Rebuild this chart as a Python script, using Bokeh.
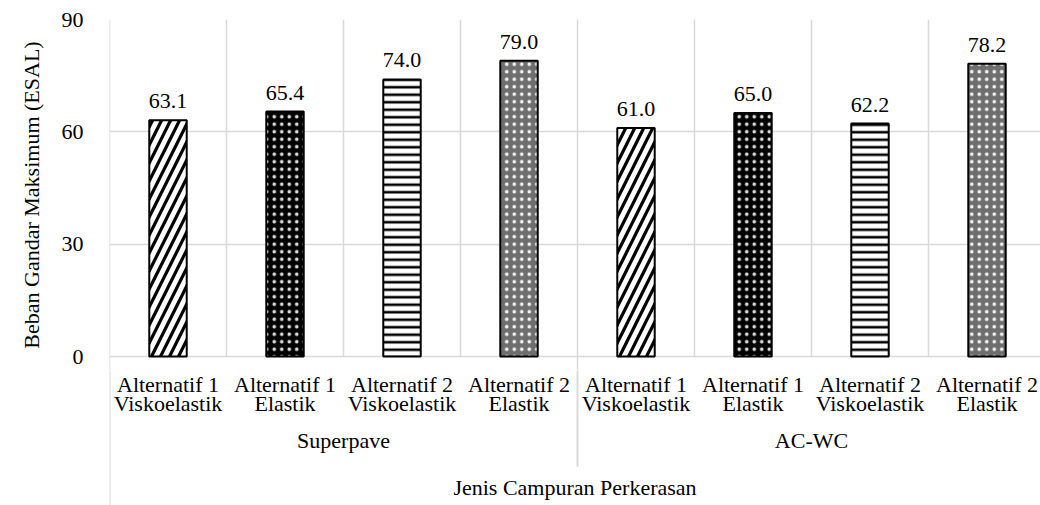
from bokeh.plotting import figure
from bokeh.models import Range1d, FixedTicker, ColumnDataSource
from bokeh.layouts import column
from bokeh.embed import file_html
from bokeh.resources import INLINE
from bokeh.core.properties import value

# ---- data ----
groups = ["Superpave", "AC-WC"]
cat_line1 = ["Alternatif 1", "Alternatif 1", "Alternatif 2", "Alternatif 2",
             "Alternatif 1", "Alternatif 1", "Alternatif 2", "Alternatif 2"]
cat_line2 = ["Viskoelastik", "Elastik", "Viskoelastik", "Elastik",
             "Viskoelastik", "Elastik", "Viskoelastik", "Elastik"]
values = [63.1, 65.4, 74.0, 79.0, 61.0, 65.0, 62.2, 78.2]
y_ticks = [0, 30, 60, 90]
y_title = "Beban Gandar Maksimum (ESAL)"
x_title = "Jenis Campuran Perkerasan"

FONT = "Times New Roman"
FS = "22px"
GRID = "#d9d9d9"

n = len(values)
xs = [i + 0.5 for i in range(n)]
labels = ["%.1f" % v for v in values]
xr = Range1d(0, 931 / 117)
unit = 337 / 90.0
y_low = -14 / unit

p = figure(width=1040, height=370, x_range=xr, y_range=Range1d(y_low, 90),
           output_backend="svg", toolbar_location=None,
           min_border_left=109, min_border_right=0, min_border_top=19, min_border_bottom=0)
p.outline_line_color = None
p.xaxis.visible = False
p.xgrid.visible = False
p.ygrid.ticker = FixedTicker(ticks=y_ticks)
p.ygrid.grid_line_color = GRID
p.ygrid.grid_line_width = 1.5

# vertical category boundaries; group boundaries run on below the axis
bounds = list(range(n + 1))
p.segment(x0=bounds, x1=bounds, y0=[y_low if b in (0, 4) else 0 for b in bounds],
          y1=[90] * len(bounds), line_color=GRID, line_width=1.5)

ya = p.yaxis[0]
ya.ticker = FixedTicker(ticks=y_ticks)
ya.axis_line_color = None
ya.major_tick_line_color = None
ya.minor_tick_line_color = None
ya.major_label_standoff = 20
ya.major_label_text_font = FONT
ya.major_label_text_font_size = FS
ya.major_label_text_color = "black"
ya.axis_label = y_title
ya.axis_label_text_font = FONT
ya.axis_label_text_font_size = FS
ya.axis_label_text_font_style = "normal"
ya.axis_label_text_color = "black"
ya.axis_label_standoff = 15

W = 0.32
def bars(idx, **kw):
    src = ColumnDataSource(dict(x=[xs[i] for i in idx], top=[values[i] for i in idx]))
    p.vbar(x="x", top="top", bottom=0, width=W, source=src, **kw)

# pattern 1: diagonal lines
bars([0, 4], fill_color="white", line_color=None,
     hatch_pattern="right_diagonal_line", hatch_color="black", hatch_scale=18, hatch_weight=3.2)
# pattern 2: black with white dots
bars([1, 5], fill_color="black", line_color=None,
     hatch_pattern="dot", hatch_color="white", hatch_scale=7.5, hatch_weight=1, hatch_alpha=0.85)
# pattern 3: horizontal lines
bars([2, 6], fill_color="white", line_color=None,
     hatch_pattern="horizontal_line", hatch_color="black", hatch_scale=7.5, hatch_weight=2.6)
# pattern 4: fine grey checker with white dots
bars([3, 7], fill_color="#6e6e6e", line_color=None,
     hatch_pattern="dot", hatch_color="white", hatch_scale=7.5, hatch_weight=1, hatch_alpha=0.9)
# outlines
bars(list(range(n)), fill_color=None, line_color="black", line_width=2)

p.text(x=xs, y=values, text=labels, text_font=value(FONT), text_font_size=FS,
       text_align="center", text_baseline="bottom", y_offset=-12, text_color="black")

# ---- lower panel with category labels ----
q = figure(width=1040, height=135, x_range=xr, y_range=Range1d(505, 370),
           output_backend="svg", toolbar_location=None,
           x_axis_type=None, y_axis_type=None,
           min_border_left=109, min_border_right=0, min_border_top=0, min_border_bottom=0)
q.outline_line_color = None
q.grid.visible = False
q.segment(x0=[0, 4], y0=[370, 370], x1=[0, 4], y1=[505, 466], line_color=GRID, line_width=2)
q.text(x=xs, y=[384] * n, text=cat_line1, text_font=value(FONT), text_font_size=FS,
       text_align="center", text_baseline="middle", text_color="black")
q.text(x=xs, y=[403] * n, text=cat_line2, text_font=value(FONT), text_font_size=FS,
       text_align="center", text_baseline="middle", text_color="black")
q.text(x=[2, 6], y=[440, 440], text=groups, text_font=value(FONT), text_font_size=FS,
       text_align="center", text_baseline="middle", text_color="black")
q.text(x=[(xr.start + xr.end) / 2], y=[487], text=[x_title], text_font=value(FONT), text_font_size=FS,
       text_align="center", text_baseline="middle", text_color="black")

layout = column(p, q, spacing=0)
open("out.html", "w").write(file_html(layout, INLINE))
